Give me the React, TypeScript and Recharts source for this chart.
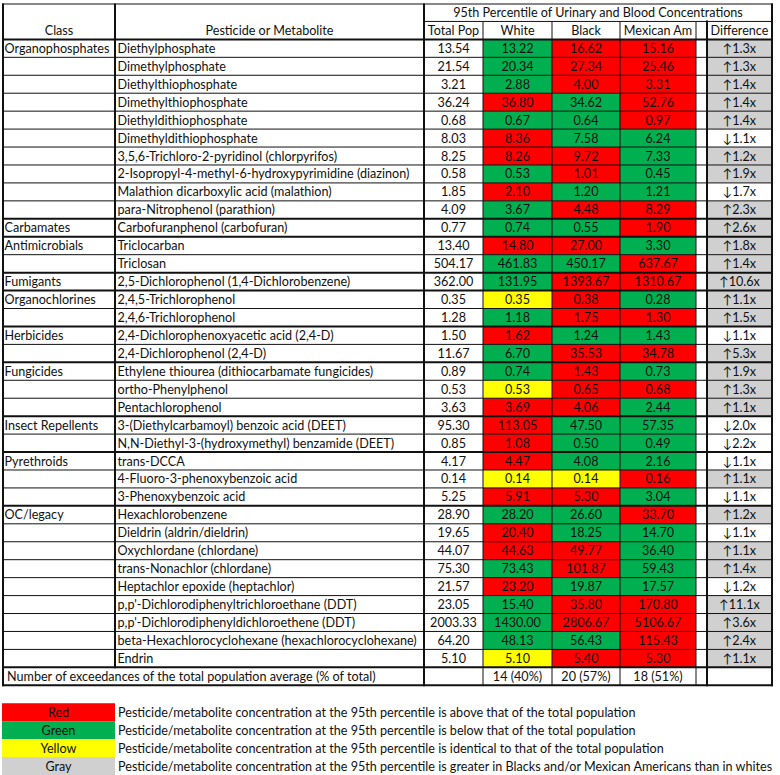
import React from 'react';
import { ScatterChart, Scatter, XAxis, YAxis } from 'recharts';

// ---------------- DATA ----------------
const classNames = ['Organophosphates', 'Carbamates', 'Antimicrobials', 'Fumigants', 'Organochlorines', 'Herbicides', 'Fungicides', 'Insect Repellents', 'Pyrethroids', 'OC/legacy'];
const classSizes = [10, 1, 2, 1, 2, 2, 3, 2, 3, 9];

const pesticides = [
  'Diethylphosphate',
  'Dimethylphosphate',
  'Diethylthiophosphate',
  'Dimethylthiophosphate',
  'Diethyldithiophosphate',
  'Dimethyldithiophosphate',
  '3,5,6-Trichloro-2-pyridinol (chlorpyrifos)',
  '2-Isopropyl-4-methyl-6-hydroxypyrimidine (diazinon)',
  'Malathion dicarboxylic acid (malathion)',
  'para-Nitrophenol (parathion)',
  'Carbofuranphenol (carbofuran)',
  'Triclocarban',
  'Triclosan',
  '2,5-Dichlorophenol (1,4-Dichlorobenzene)',
  '2,4,5-Trichlorophenol',
  '2,4,6-Trichlorophenol',
  '2,4-Dichlorophenoxyacetic acid (2,4-D)',
  '2,4-Dichlorophenol (2,4-D)',
  'Ethylene thiourea (dithiocarbamate fungicides)',
  'ortho-Phenylphenol',
  'Pentachlorophenol',
  '3-(Diethylcarbamoyl) benzoic acid (DEET)',
  'N,N-Diethyl-3-(hydroxymethyl) benzamide (DEET)',
  'trans-DCCA',
  '4-Fluoro-3-phenoxybenzoic acid',
  '3-Phenoxybenzoic acid',
  'Hexachlorobenzene',
  'Dieldrin (aldrin/dieldrin)',
  'Oxychlordane (chlordane)',
  'trans-Nonachlor (chlordane)',
  'Heptachlor epoxide (heptachlor)',
  "p,p'-Dichlorodiphenyltrichloroethane (DDT)",
  "p,p'-Dichlorodiphenyldichloroethene (DDT)",
  'beta-Hexachlorocyclohexane (hexachlorocyclohexane)',
  'Endrin',
];

const totalPop = [13.54, 21.54, 3.21, 36.24, 0.68, 8.03, 8.25, 0.58, 1.85, 4.09, 0.77, 13.40, 504.17, 362.00, 0.35, 1.28, 1.50, 11.67, 0.89, 0.53, 3.63, 95.30, 0.85, 4.17, 0.14, 5.25, 28.90, 19.65, 44.07, 75.30, 21.57, 23.05, 2003.33, 64.20, 5.10];
const white = [13.22, 20.34, 2.88, 36.80, 0.67, 8.36, 8.26, 0.53, 2.10, 3.67, 0.74, 14.80, 461.83, 131.95, 0.35, 1.18, 1.62, 6.70, 0.74, 0.53, 3.69, 113.05, 1.08, 4.47, 0.14, 5.91, 28.20, 20.40, 44.63, 73.43, 23.20, 15.40, 1430.00, 48.13, 5.10];
const black = [16.62, 27.34, 4.00, 34.62, 0.64, 7.58, 9.72, 1.01, 1.20, 4.48, 0.55, 27.00, 450.17, 1393.67, 0.38, 1.75, 1.24, 35.53, 1.43, 0.65, 4.06, 47.50, 0.50, 4.08, 0.14, 5.30, 26.60, 18.25, 49.77, 101.87, 19.87, 35.80, 2806.67, 56.43, 5.40];
const mexican = [15.16, 25.46, 3.31, 52.76, 0.97, 6.24, 7.33, 0.45, 1.21, 8.29, 1.90, 3.30, 637.67, 1310.67, 0.28, 1.30, 1.43, 34.78, 0.73, 0.68, 2.44, 57.35, 0.49, 2.16, 0.16, 3.04, 33.70, 14.70, 36.40, 59.43, 17.57, 170.80, 5106.67, 115.43, 5.30];
const difference = ['↑1.3x', '↑1.3x', '↑1.4x', '↑1.4x', '↑1.4x', '↓1.1x', '↑1.2x', '↑1.9x', '↓1.7x', '↑2.3x', '↑2.6x', '↑1.8x', '↑1.4x', '↑10.6x', '↑1.1x', '↑1.5x', '↓1.1x', '↑5.3x', '↑1.9x', '↑1.3x', '↑1.1x', '↓2.0x', '↓2.2x', '↓1.1x', '↑1.1x', '↓1.1x', '↑1.2x', '↓1.1x', '↑1.1x', '↑1.4x', '↓1.2x', '↑11.1x', '↑3.6x', '↑2.4x', '↑1.1x'];

const topHeader = '95th Percentile of Urinary and Blood Concentrations';
const leftHeaders = ['Class', 'Pesticide or Metabolite'];
const columnHeaders = ['Total Pop', 'White', 'Black', 'Mexican Am', '', 'Difference'];
const summaryLabel = 'Number of exceedances of the total population average (% of total)';
const exceedances = ['14 (40%)', '20 (57%)', '18 (51%)'];

const legendLabels = ['Red', 'Green', 'Yellow', 'Gray'];
const legendTexts = [
  'Pesticide/metabolite concentration at the 95th percentile is above that of the total population',
  'Pesticide/metabolite concentration at the 95th percentile is below that of the total population',
  'Pesticide/metabolite concentration at the 95th percentile is identical to that of the total population',
  'Pesticide/metabolite concentration at the 95th percentile is greater in Blacks and/or Mexican Americans than in whites',
];

// ---------------- LAYOUT / STYLE ----------------
const W = 780;
const H = 775;
const TOP = 3.5;
const NROWS = 43;
const ROW_H = (H - TOP) / NROWS;
const EDGES = [3, 115, 424, 483, 552, 620, 696, 707, 772];
const LEGEND_BOX = [2, 115];
const LEGEND_TEXT_X = 118;
const FONT = 'Lato, Calibri, Carlito, "Noto Sans", sans-serif';
const FS = 12.6;

const RED = '#FF0000';
const GREEN = '#00B050';
const YELLOW = '#FFFF00';
const GRAY = '#D0D0D0';
const legendFills = [RED, GREEN, YELLOW, GRAY];

const cmpFill = (v: number, t: number) => (v > t ? RED : v < t ? GREEN : YELLOW);
const fmt = (v: number) => v.toFixed(2);

type Cell = {
  x: number; y: number; w: number; span: number; text: string; fill: string;
  align: 'start' | 'middle'; pad: number; vpos: 'mid' | 'bottom';
};

const cellBetween = (x0: number, x1: number, row: number, span: number, text: string, fill = 'none', align: 'start' | 'middle' = 'middle', pad = 0, vpos: 'mid' | 'bottom' = 'mid'): Cell => ({
  x: (x0 + x1) / 2, y: row + span / 2, w: x1 - x0, span, text, fill, align, pad, vpos,
});

const buildCells = (): Cell[] => {
  const cells: Cell[] = [];
  cells.push(cellBetween(EDGES[0], EDGES[1], 0, 2, leftHeaders[0], '#FFFFFF', 'middle', 0, 'bottom'));
  cells.push(cellBetween(EDGES[1], EDGES[2], 0, 2, leftHeaders[1], '#FFFFFF', 'middle', 0, 'bottom'));
  cells.push(cellBetween(EDGES[2], EDGES[8], 0, 1, topHeader, '#FFFFFF'));
  columnHeaders.forEach((h, i) => cells.push(cellBetween(EDGES[2 + i], EDGES[3 + i], 1, 1, h, '#FFFFFF')));
  const classOf: string[] = [];
  classSizes.forEach((n, g) => { for (let k = 0; k < n; k++) classOf.push(k === 0 ? classNames[g] : ''); });
  pesticides.forEach((p, r) => {
    const row = 2 + r;
    cells.push(cellBetween(EDGES[0], EDGES[1], row, 1, classOf[r], '#FFFFFF', 'start', 1.5));
    cells.push(cellBetween(EDGES[1], EDGES[2], row, 1, p, '#FFFFFF', 'start', 2.5));
    cells.push(cellBetween(EDGES[2], EDGES[3], row, 1, fmt(totalPop[r]), '#FFFFFF'));
    cells.push(cellBetween(EDGES[3], EDGES[4], row, 1, fmt(white[r]), cmpFill(white[r], totalPop[r])));
    cells.push(cellBetween(EDGES[4], EDGES[5], row, 1, fmt(black[r]), cmpFill(black[r], totalPop[r])));
    cells.push(cellBetween(EDGES[5], EDGES[6], row, 1, fmt(mexican[r]), cmpFill(mexican[r], totalPop[r])));
    cells.push(cellBetween(EDGES[6], EDGES[7], row, 1, '', '#FFFFFF'));
    cells.push(cellBetween(EDGES[7], EDGES[8], row, 1, difference[r], difference[r].startsWith('↑') ? GRAY : '#FFFFFF'));
  });
  const sRow = 2 + pesticides.length;
  cells.push(cellBetween(EDGES[0], EDGES[2], sRow, 1, summaryLabel, '#FFFFFF', 'start', 4));
  cells.push(cellBetween(EDGES[2], EDGES[3], sRow, 1, '', '#FFFFFF'));
  exceedances.forEach((e, i) => cells.push(cellBetween(EDGES[3 + i], EDGES[4 + i], sRow, 1, e, '#FFFFFF')));
  legendLabels.forEach((l, i) => {
    const row = sRow + 2 + i;
    cells.push(cellBetween(LEGEND_BOX[0], LEGEND_BOX[1], row, 1, l, legendFills[i]));
    cells.push(cellBetween(LEGEND_TEXT_X, W, row, 1, legendTexts[i], 'none', 'start', 0));
  });
  return cells;
};
const CELLS = buildCells();

// grid line segments, as points at their midpoints (x in px units, y in row units)
type Seg = { x: number; y: number; dx: number; dy: number; thick: boolean };
const seg = (x0: number, y0: number, x1: number, y1: number, thick: boolean): Seg => ({
  x: (x0 + x1) / 2, y: (y0 + y1) / 2, dx: (x1 - x0) / 2, dy: (y1 - y0) / 2, thick,
});
const buildLines = (): Seg[] => {
  const segs: Seg[] = [];
  const L = EDGES[0], R = EDGES[8];
  const lastRow = 2 + pesticides.length;
  const groupEnds = new Set<number>();
  let acc = 0;
  classSizes.forEach((n) => { acc += n; groupEnds.add(acc); });
  for (let r = 1; r < pesticides.length; r++) {
    if (!groupEnds.has(r)) segs.push(seg(L, 2 + r, R, 2 + r, false));
  }
  segs.push(seg(EDGES[2], 1, R, 1, false));
  [3, 4, 5, 6].forEach((i) => segs.push(seg(EDGES[i], 1, EDGES[i], lastRow + 1, false)));
  for (let r = 1; r < pesticides.length; r++) {
    if (groupEnds.has(r)) segs.push(seg(L, 2 + r, R, 2 + r, true));
  }
  segs.push(seg(L, 0, R, 0, true));
  segs.push(seg(L, 2, R, 2, true));
  segs.push(seg(L, lastRow, R, lastRow, true));
  segs.push(seg(L, lastRow + 1, R, lastRow + 1, true));
  segs.push(seg(EDGES[0], 0, EDGES[0], lastRow + 1, true));
  segs.push(seg(EDGES[1], 0, EDGES[1], lastRow, true));
  segs.push(seg(EDGES[2], 0, EDGES[2], lastRow + 1, true));
  segs.push(seg(EDGES[7], 1, EDGES[7], lastRow + 1, true));
  segs.push(seg(EDGES[8], 0, EDGES[8], lastRow + 1, true));
  return segs;
};
const LINES = buildLines();

const CellShape = (props: any) => {
  const { cx, cy, payload } = props;
  const c: Cell = payload;
  if (cx == null || cy == null) return null;
  const h = c.span * ROW_H;
  const x0 = cx - c.w / 2;
  const y0 = cy - h / 2;
  const tx = c.align === 'start' ? x0 + c.pad : cx;
  const ty = c.vpos === 'bottom' ? y0 + h - ROW_H / 2 + 4.5 : cy + 4.5;
  return (
    <g>
      {c.fill !== 'none' && <rect x={x0} y={y0} width={c.w} height={h} fill={c.fill} />}
      {c.text && (
        <text x={tx} y={ty} textAnchor={c.align} fontFamily={FONT} fontSize={FS} fill="#111">
          {c.text}
        </text>
      )}
    </g>
  );
};

const LineShape = (props: any) => {
  const { cx, cy, payload } = props;
  const s: Seg = payload;
  if (cx == null || cy == null) return null;
  const ext = s.thick ? 1 : 0;
  const hx = s.dx === 0 ? 0 : s.dx + ext;
  const hy = s.dy === 0 ? 0 : s.dy * ROW_H + ext;
  return (
    <line x1={cx - hx} y1={cy - hy} x2={cx + hx} y2={cy + hy} stroke="#111" strokeWidth={s.thick ? 2 : 1} />
  );
};

export default function App() {
  return (
    <div style={{ position: 'absolute', left: 0, top: 0, width: W, height: H, background: '#fff' }}>
      <ScatterChart width={W} height={H} margin={{ top: TOP, right: 0, bottom: 0, left: 0 }}>
        <XAxis type="number" dataKey="x" domain={[0, W]} allowDataOverflow hide />
        <YAxis type="number" dataKey="y" domain={[0, NROWS]} allowDataOverflow reversed hide />
        <Scatter data={CELLS} shape={(p: any) => <CellShape {...p} />} isAnimationActive={false} />
        <Scatter data={LINES} shape={(p: any) => <LineShape {...p} />} isAnimationActive={false} />
      </ScatterChart>
    </div>
  );
}
